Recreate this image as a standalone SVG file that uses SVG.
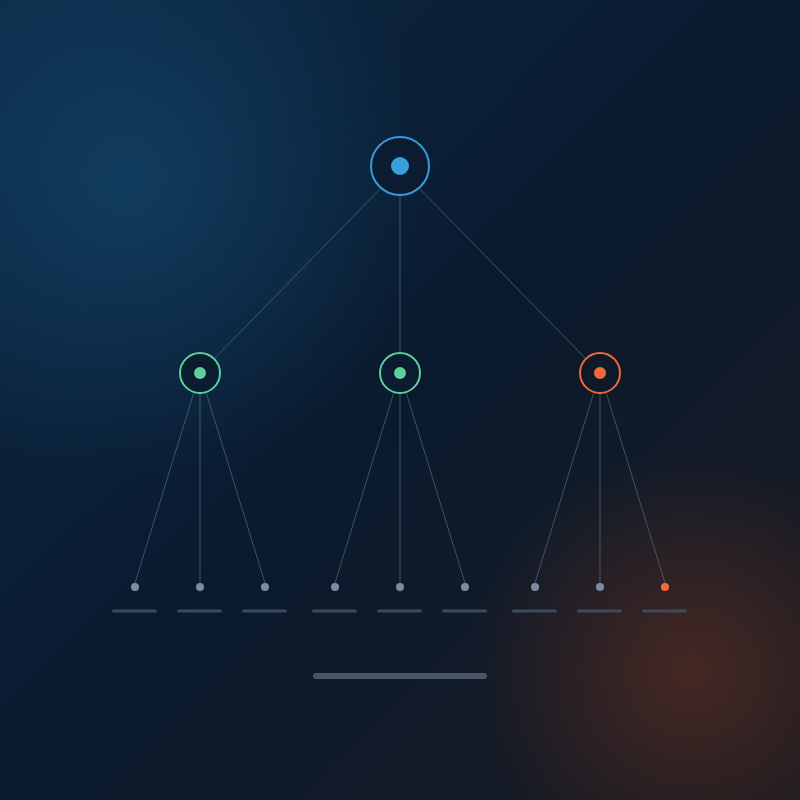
<svg xmlns="http://www.w3.org/2000/svg" width="800" height="800" viewBox="0 0 800 800">
<defs>
<linearGradient id="bg" x1="0" y1="0" x2="1" y2="1">
<stop offset="0" stop-color="#0c2b48"/>
<stop offset="0.5" stop-color="#0a1a2e"/>
<stop offset="1" stop-color="#1a1a20"/>
</linearGradient>
<radialGradient id="glowB" cx="130" cy="180" r="300" gradientUnits="userSpaceOnUse">
<stop offset="0" stop-color="#14496f" stop-opacity="0.65"/>
<stop offset="1" stop-color="#14496f" stop-opacity="0"/>
</radialGradient>
<radialGradient id="glowO" cx="690" cy="670" r="220" gradientUnits="userSpaceOnUse">
<stop offset="0" stop-color="#5a2e22" stop-opacity="0.7"/>
<stop offset="1" stop-color="#5a2e22" stop-opacity="0"/>
</radialGradient>
<style>
.e{stroke:#5d7a90;stroke-width:1;opacity:0.6;fill:none}
.leaf{fill:#7d8ca0}
.bar{fill:#3c4a5c}
</style>
</defs>
<rect width="800" height="800" fill="url(#bg)"/>
<rect width="800" height="800" fill="url(#glowB)"/>
<rect width="800" height="800" fill="url(#glowO)"/>
<g id="connectors">
<line class="e" x1="381" y1="188" x2="214" y2="359"/>
<line class="e" x1="400" y1="195" x2="400" y2="353"/>
<line class="e" x1="419" y1="188" x2="586" y2="359"/>
<line class="e" x1="194" y1="392" x2="135" y2="583"/>
<line class="e" x1="200" y1="393" x2="200" y2="583"/>
<line class="e" x1="206" y1="392" x2="265" y2="583"/>
<line class="e" x1="394" y1="392" x2="335" y2="583"/>
<line class="e" x1="400" y1="393" x2="400" y2="583"/>
<line class="e" x1="406" y1="392" x2="465" y2="583"/>
<line class="e" x1="594" y1="392" x2="535" y2="583"/>
<line class="e" x1="600" y1="393" x2="600" y2="583"/>
<line class="e" x1="606" y1="392" x2="665" y2="583"/>
</g>
<g id="root">
<circle cx="400" cy="166" r="29" fill="#0b1c30" stroke="#3a9ad9" stroke-width="2"/>
<circle cx="400" cy="166" r="9" fill="#3aa0dc"/>
</g>
<g id="mid-left">
<circle cx="200" cy="373" r="20" fill="#0b1c30" stroke="#5ccf9c" stroke-width="2"/>
<circle cx="200" cy="373" r="6" fill="#5ccf9c"/>
</g>
<g id="mid-center">
<circle cx="400" cy="373" r="20" fill="#0b1c30" stroke="#5ccf9c" stroke-width="2"/>
<circle cx="400" cy="373" r="6" fill="#5ccf9c"/>
</g>
<g id="mid-right">
<circle cx="600" cy="373" r="20" fill="#0e1a2a" stroke="#f2693a" stroke-width="2"/>
<circle cx="600" cy="373" r="6" fill="#f2693a"/>
</g>
<g id="leaf1"><circle class="leaf" cx="135" cy="587" r="4"/><rect class="bar" x="112" y="609.5" width="45" height="3" rx="1.5"/></g>
<g id="leaf2"><circle class="leaf" cx="200" cy="587" r="4"/><rect class="bar" x="177" y="609.5" width="45" height="3" rx="1.5"/></g>
<g id="leaf3"><circle class="leaf" cx="265" cy="587" r="4"/><rect class="bar" x="242" y="609.5" width="45" height="3" rx="1.5"/></g>
<g id="leaf4"><circle class="leaf" cx="335" cy="587" r="4"/><rect class="bar" x="312" y="609.5" width="45" height="3" rx="1.5"/></g>
<g id="leaf5"><circle class="leaf" cx="400" cy="587" r="4"/><rect class="bar" x="377" y="609.5" width="45" height="3" rx="1.5"/></g>
<g id="leaf6"><circle class="leaf" cx="465" cy="587" r="4"/><rect class="bar" x="442" y="609.5" width="45" height="3" rx="1.5"/></g>
<g id="leaf7"><circle class="leaf" cx="535" cy="587" r="4"/><rect class="bar" x="512" y="609.5" width="45" height="3" rx="1.5"/></g>
<g id="leaf8"><circle class="leaf" cx="600" cy="587" r="4"/><rect class="bar" x="577" y="609.5" width="45" height="3" rx="1.5"/></g>
<g id="leaf9"><circle cx="665" cy="587" r="4" fill="#f2693a"/><rect class="bar" x="642" y="609.5" width="45" height="3" rx="1.5"/></g>
<g id="footer"><rect x="313" y="673" width="174" height="6" rx="3" fill="#4a5668"/></g>
</svg>
